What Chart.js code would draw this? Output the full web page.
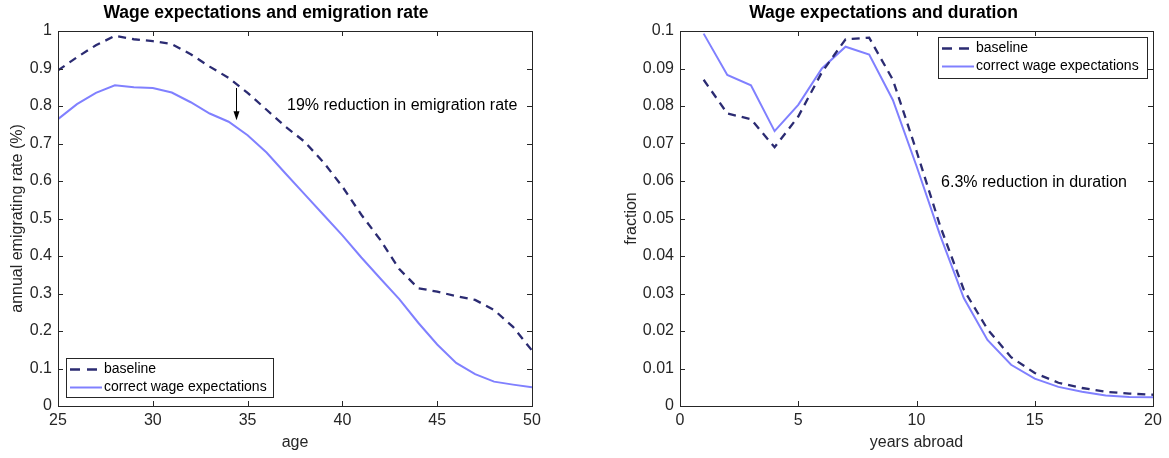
<!DOCTYPE html>
<html>
<head>
<meta charset="utf-8">
<script src="https://cdn.jsdelivr.net/npm/chart.js@4.4.0/dist/chart.umd.min.js"></script>
<style>
  html, body { margin: 0; padding: 0; background: #fff; }
  #wrap { position: relative; width: 1169px; height: 458px; overflow: hidden; }
  #rateChart { position: absolute; left: 0; top: 0; }
  #durChart { position: absolute; left: 614px; top: 0; }
</style>
</head>
<body>
<div id="wrap">
  <canvas id="rateChart" width="614" height="458"></canvas>
  <canvas id="durChart" width="555" height="458"></canvas>
</div>
<script>
// ---- Emigration rate by age ----
const ages = [25, 26, 27, 28, 29, 30, 31, 32, 33, 34, 35, 36, 37, 38, 39, 40, 41, 42, 43, 44, 45, 46, 47, 48, 49, 50];
const rateBaseline = [0.895, 0.930, 0.962, 0.987, 0.978, 0.973, 0.965, 0.938, 0.905, 0.875, 0.835, 0.790, 0.745, 0.705, 0.650, 0.585, 0.510, 0.443, 0.365, 0.314, 0.305, 0.293, 0.283, 0.256, 0.211, 0.148];
const rateCorrect  = [0.765, 0.805, 0.835, 0.855, 0.850, 0.848, 0.836, 0.810, 0.780, 0.758, 0.722, 0.676, 0.620, 0.565, 0.510, 0.455, 0.396, 0.340, 0.285, 0.222, 0.164, 0.115, 0.085, 0.065, 0.057, 0.050];
const ageTicks  = [25, 30, 35, 40, 45, 50];
const rateTicks = [0, 0.1, 0.2, 0.3, 0.4, 0.5, 0.6, 0.7, 0.8, 0.9, 1];

// ---- Duration abroad ----
const years = [1, 2, 3, 4, 5, 6, 7, 8, 9, 10, 11, 12, 13, 14, 15, 16, 17, 18, 19, 20];
const durBaseline = [0.0870, 0.0780, 0.0765, 0.0690, 0.0772, 0.0890, 0.0978, 0.0982, 0.0870, 0.0680, 0.0480, 0.0310, 0.0205, 0.0130, 0.0088, 0.0062, 0.0048, 0.0038, 0.0033, 0.0030];
const durCorrect  = [0.0993, 0.0883, 0.0855, 0.0733, 0.0803, 0.0900, 0.0958, 0.0937, 0.0816, 0.0640, 0.0455, 0.0288, 0.0176, 0.0110, 0.0073, 0.0051, 0.0038, 0.0028, 0.0024, 0.0023];
const yearTicks = [0, 5, 10, 15, 20];
const fracTicks = [0, 0.01, 0.02, 0.03, 0.04, 0.05, 0.06, 0.07, 0.08, 0.09, 0.1];

// ---- Annotation values ----
const arrowAge = 34.4;
const arrowFrom = 0.848;
const arrowTo = 0.762;

const FONT = "'Liberation Sans', Arial, Helvetica, sans-serif";
const AXIS_COLOR = '#262626';
const BASE_COLOR = '#2b2b72';
const CORR_COLOR = '#8080ff';
const seriesNames = ['baseline', 'correct wage expectations'];

const toPoints = (xs, ys) => xs.map((x, i) => ({ x: x, y: ys[i] }));
const fmt = v => String(+v.toFixed(3));

// Box around the axes with inward ticks on all four sides, legend and text notes
const framePlugin = {
  id: 'frame',
  afterDraw(chart, args, opts) {
    const { ctx, chartArea: a, scales } = chart;
    const tl = 5;
    ctx.save();
    ctx.strokeStyle = AXIS_COLOR;
    ctx.lineWidth = 1;
    ctx.beginPath();
    scales.x.ticks.forEach(t => {
      const px = Math.round(scales.x.getPixelForValue(t.value)) + 0.5;
      ctx.moveTo(px, a.bottom); ctx.lineTo(px, a.bottom - tl);
      ctx.moveTo(px, a.top); ctx.lineTo(px, a.top + tl);
    });
    scales.y.ticks.forEach(t => {
      const py = Math.round(scales.y.getPixelForValue(t.value)) + 0.5;
      ctx.moveTo(a.left, py); ctx.lineTo(a.left + tl, py);
      ctx.moveTo(a.right, py); ctx.lineTo(a.right - tl, py);
    });
    ctx.stroke();
    ctx.strokeRect(Math.round(a.left) + 0.5, Math.round(a.top) + 0.5, Math.round(a.right - a.left), Math.round(a.bottom - a.top));

    // legend
    const lg = opts.legend;
    const lx = lg.right !== undefined ? a.right - lg.right - lg.w : a.left + lg.left;
    const ly = lg.bottom !== undefined ? a.bottom - lg.bottom - lg.h : a.top + lg.top;
    ctx.fillStyle = '#fff';
    ctx.fillRect(lx, ly, lg.w, lg.h);
    ctx.strokeStyle = AXIS_COLOR;
    ctx.lineWidth = 1;
    ctx.strokeRect(Math.round(lx) + 0.5, Math.round(ly) + 0.5, lg.w, lg.h);
    ctx.font = '14px ' + FONT;
    ctx.textBaseline = 'middle';
    ctx.textAlign = 'left';
    chart.data.datasets.forEach((ds, i) => {
      const ry = ly + (i === 0 ? 11.5 : 29.5);
      const dashed = !!ds.borderDash;
      ctx.strokeStyle = ds.borderColor;
      ctx.lineWidth = ds.borderWidth;
      ctx.setLineDash(dashed ? [10, 7] : []);
      ctx.beginPath();
      ctx.moveTo(lx + 4, ry); ctx.lineTo(lx + (dashed ? 31 : 36), ry);
      ctx.stroke();
      ctx.setLineDash([]);
      ctx.fillStyle = '#000';
      ctx.fillText(ds.label, lx + 38, ry);
    });

    // text note
    const n = opts.note;
    ctx.fillStyle = '#000';
    ctx.font = '16px ' + FONT;
    ctx.textAlign = 'left';
    ctx.textBaseline = 'middle';
    ctx.fillText(n.text, scales.x.getPixelForValue(n.x), scales.y.getPixelForValue(n.y));

    // arrow
    if (opts.arrow) {
      const ax = Math.round(scales.x.getPixelForValue(opts.arrow.x)) + 0.5;
      const y0 = scales.y.getPixelForValue(opts.arrow.from);
      const y1 = scales.y.getPixelForValue(opts.arrow.to);
      ctx.strokeStyle = '#000';
      ctx.fillStyle = '#000';
      ctx.lineWidth = 1;
      ctx.beginPath();
      ctx.moveTo(ax, y0); ctx.lineTo(ax, y1 - 4);
      ctx.stroke();
      ctx.beginPath();
      ctx.moveTo(ax, y1); ctx.lineTo(ax - 3, y1 - 9); ctx.lineTo(ax + 3, y1 - 9); ctx.closePath();
      ctx.fill();
    }
    ctx.restore();
  }
};

function makeChart(id, cfg) {
  return new Chart(document.getElementById(id), {
    type: 'line',
    data: {
      datasets: [
        { label: seriesNames[0], data: cfg.base, borderColor: BASE_COLOR, borderWidth: 2.3, borderDash: [8, 6], pointRadius: 0, tension: 0, fill: false },
        { label: seriesNames[1], data: cfg.corr, borderColor: CORR_COLOR, borderWidth: 2, pointRadius: 0, tension: 0, fill: false }
      ]
    },
    options: {
      responsive: false,
      animation: false,
      events: [],
      layout: { padding: { left: cfg.padLeft, right: cfg.padRight, top: 0, bottom: 0 } },
      scales: {
        x: {
          type: 'linear', min: cfg.xMin, max: cfg.xMax,
          afterBuildTicks: s => { s.ticks = cfg.xTicks.map(v => ({ value: v })); },
          afterFit: s => { s.height = 52; },
          grid: { display: false, drawTicks: false },
          border: { display: false },
          ticks: { padding: 5, color: AXIS_COLOR, font: { family: FONT, size: 16 }, maxRotation: 0, autoSkip: false, callback: v => fmt(v) },
          title: { display: true, text: cfg.xTitle, color: AXIS_COLOR, font: { family: FONT, size: 16 }, padding: { top: 0, bottom: 6 } }
        },
        y: {
          type: 'linear', min: 0, max: cfg.yMax,
          afterBuildTicks: s => { s.ticks = cfg.yTicks.map(v => ({ value: v })); },
          afterFit: s => { s.width = cfg.yWidth; },
          grid: { display: false, drawTicks: false },
          border: { display: false },
          ticks: { padding: 6, color: AXIS_COLOR, font: { family: FONT, size: 16 }, autoSkip: false, callback: v => fmt(v) },
          title: { display: true, text: cfg.yTitle, color: AXIS_COLOR, font: { family: FONT, size: 16 }, padding: { top: 8, bottom: 0 } }
        }
      },
      plugins: {
        legend: { display: false },
        tooltip: { enabled: false },
        title: { display: true, text: cfg.title, color: '#000', font: { family: FONT, size: 17.5, weight: 'bold' }, padding: { top: 2.5, bottom: 7.5 } },
        frame: { legend: cfg.legend, note: cfg.note, arrow: cfg.arrow }
      }
    },
    plugins: [framePlugin]
  });
}

makeChart('rateChart', {
  base: toPoints(ages, rateBaseline),
  corr: toPoints(ages, rateCorrect),
  xMin: 25, xMax: 50, yMax: 1,
  xTicks: ageTicks, yTicks: rateTicks,
  xTitle: 'age', yTitle: 'annual emigrating rate (%)',
  title: 'Wage expectations and emigration rate',
  padLeft: 0, padRight: 82, yWidth: 58,
  legend: { left: 8, bottom: 9, w: 207, h: 39 },
  note: { text: '19% reduction in emigration rate', x: 37.08, y: 0.8 },
  arrow: { x: arrowAge, from: arrowFrom, to: arrowTo }
});

makeChart('durChart', {
  base: toPoints(years, durBaseline),
  corr: toPoints(years, durCorrect),
  xMin: 0, xMax: 20, yMax: 0.1,
  xTicks: yearTicks, yTicks: fracTicks,
  xTitle: 'years abroad', yTitle: 'fraction',
  title: 'Wage expectations and duration',
  padLeft: 0, padRight: 16, yWidth: 66,
  legend: { right: 6, top: 6, w: 209, h: 41 },
  note: { text: '6.3% reduction in duration', x: 11.04, y: 0.0595 }
});
</script>
</body>
</html>
